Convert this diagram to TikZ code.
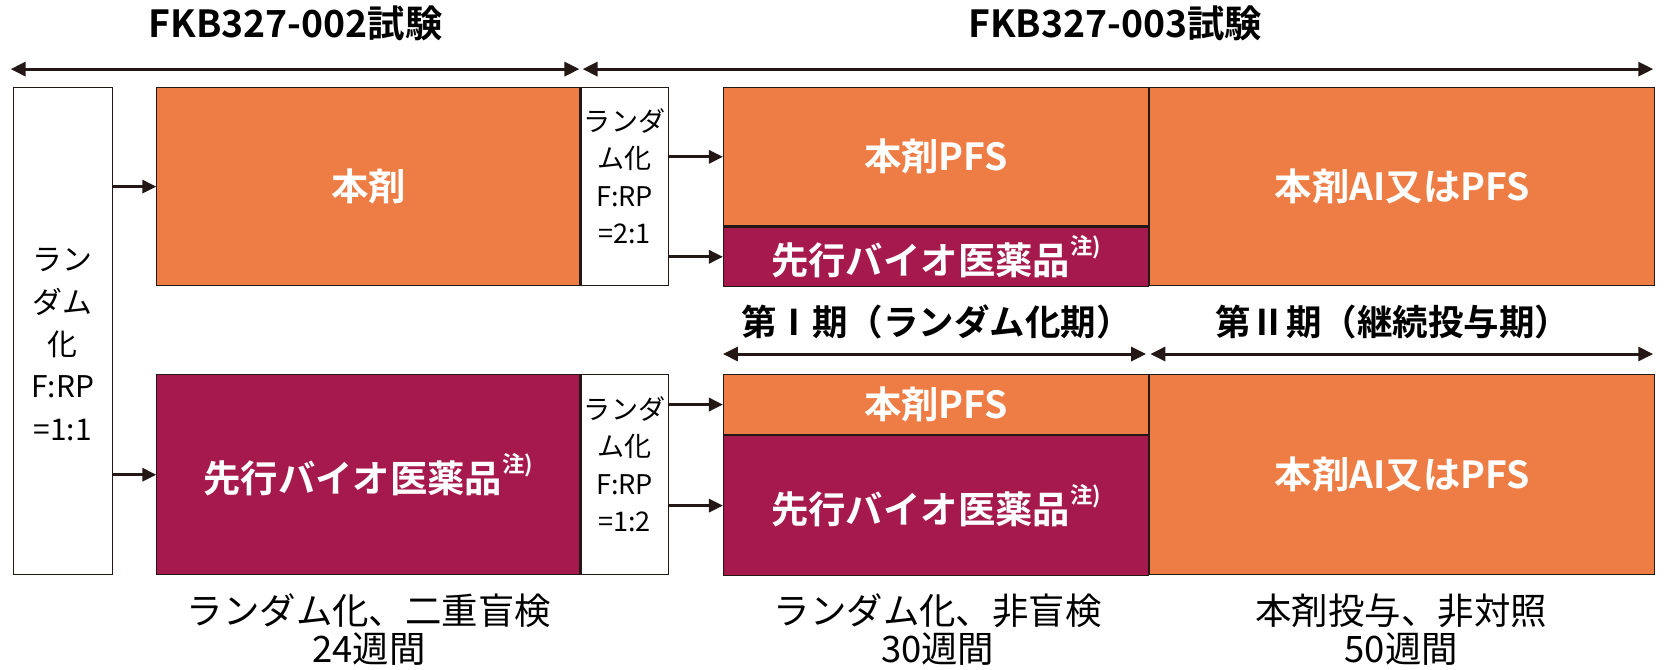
\documentclass[tikz,border=0pt]{standalone}
\usepackage{fontspec}
\setmainfont{Noto Sans CJK JP}[BoldFont={* Bold}]
\usetikzlibrary{arrows.meta,positioning}
\definecolor{drugorange}{RGB}{237,125,68}
\definecolor{refpurple}{RGB}{166,25,76}
\definecolor{linedark}{RGB}{35,24,21}
\newcommand{\chu}{\raisebox{0.55em}{\fontsize{12}{12}\selectfont 注)}}
\begin{document}
\begin{tikzpicture}[
  x=0.02cm, y=-0.02cm,
  node distance=0pt,
  every node/.style={inner sep=0pt, align=center},
  box/.style={draw=linedark, line width=0.6pt, anchor=north west, text=white, font=\fontsize{20}{24}\selectfont\bfseries},
  drugbox/.style={box, fill=drugorange},
  refbox/.style={box, fill=refpurple},
  randbox/.style={draw=linedark, line width=0.6pt, fill=white, anchor=north west, font=\fontsize{14.5}{20}\selectfont},
  head/.style={font=\fontsize{20}{24}\selectfont\bfseries},
  phase/.style={font=\fontsize{19}{23}\selectfont\bfseries},
  note/.style={font=\fontsize{19.5}{20.5}\selectfont},
  arrow/.style={-{Triangle[length=7.5pt,width=7pt]}, line width=1.6pt, draw=linedark},
  span/.style={{Triangle[length=8pt,width=7.5pt]}-{Triangle[length=8pt,width=7.5pt]}, line width=1.6pt, draw=linedark}
]
\useasboundingbox (0,0) rectangle (1568,630);
% titles
\node[head] (t002) at (278,22) {FKB327-002試験};
\node[head] (t003) at (1049,22) {FKB327-003試験};
\coordinate (t0) at (10,65);
\coordinate (t1) at (545,65);
\coordinate (t2) at (548,65);
\coordinate (t3) at (1555,65);
\draw[span] (t0) -- (t1);
\draw[span] (t2) -- (t3);
% FKB327-002
\node[randbox, minimum width=1.86cm, minimum height=9.16cm, font=\fontsize{16}{22.7}\selectfont] (r0) at (12,82) {\rule{0pt}{0.92cm}ラン\\ダム\\化\\F:RP\\=1:1};
\node[drugbox, minimum width=7.96cm, minimum height=3.72cm] (a) at (147,82) {本剤};
\node[refbox, minimum width=7.96cm, minimum height=3.76cm] (b) at (147,352) {先行バイオ医薬品\chu};
\node[randbox, right=0pt of a, minimum width=1.64cm, minimum height=3.72cm] (s1) {ランダ\\ム化\\F:RP\\=2:1\rule[-0.4cm]{0pt}{0pt}};
\node[randbox, right=0pt of b, minimum width=1.64cm, minimum height=3.76cm] (s2) {ランダ\\ム化\\F:RP\\=1:2\rule[-0.4cm]{0pt}{0pt}};
% FKB327-003
\node[drugbox, minimum width=8cm, minimum height=2.6cm] (p1) at (680,82) {本剤PFS};
\node[refbox, below=0pt of p1, minimum width=8cm, minimum height=1.12cm] (q1) {先行バイオ医薬品\chu};
\node[drugbox, minimum width=9.5cm, minimum height=3.72cm] (c1) at (p1.north east) {本剤AI又はPFS};
\node[drugbox, minimum width=8cm, minimum height=1.12cm] (p2) at (680,352) {本剤PFS};
\node[refbox, below=0pt of p2, minimum width=8cm, minimum height=2.64cm] (q2) {先行バイオ医薬品\chu};
\node[drugbox, minimum width=9.5cm, minimum height=3.76cm] (c2) at (p2.north east) {本剤AI又はPFS};
% arrows
\draw[arrow] (r0.east |- a.west) -- (a.west);
\draw[arrow] (r0.east |- b.west) -- (b.west);
\draw[arrow] (s1.east |- p1.west) -- (p1.west);
\draw[arrow] (s1.east |- q1.west) -- (q1.west);
\draw[arrow] (s2.east |- p2.west) -- (p2.west);
\draw[arrow] (s2.east |- q2.west) -- (q2.west);
% periods
\node[phase] (ph1) at (881,303) {第Ⅰ期（ランダム化期）};
\node[phase] (ph2) at (1310,303) {第Ⅱ期（継続投与期）};
\coordinate (m0) at (680,333);
\coordinate (m1) at (1078,333);
\coordinate (m2) at (1082,333);
\coordinate (m3) at (1555,333);
\draw[span] (m0) -- (m1);
\draw[span] (m2) -- (m3);
% notes
\node[note] (n1) at (347,592) {ランダム化、二重盲検\\24週間};
\node[note] (n2) at (882,592) {ランダム化、非盲検\\30週間};
\node[note] (n3) at (1318,592) {本剤投与、非対照\\50週間};
\end{tikzpicture}
\end{document}
